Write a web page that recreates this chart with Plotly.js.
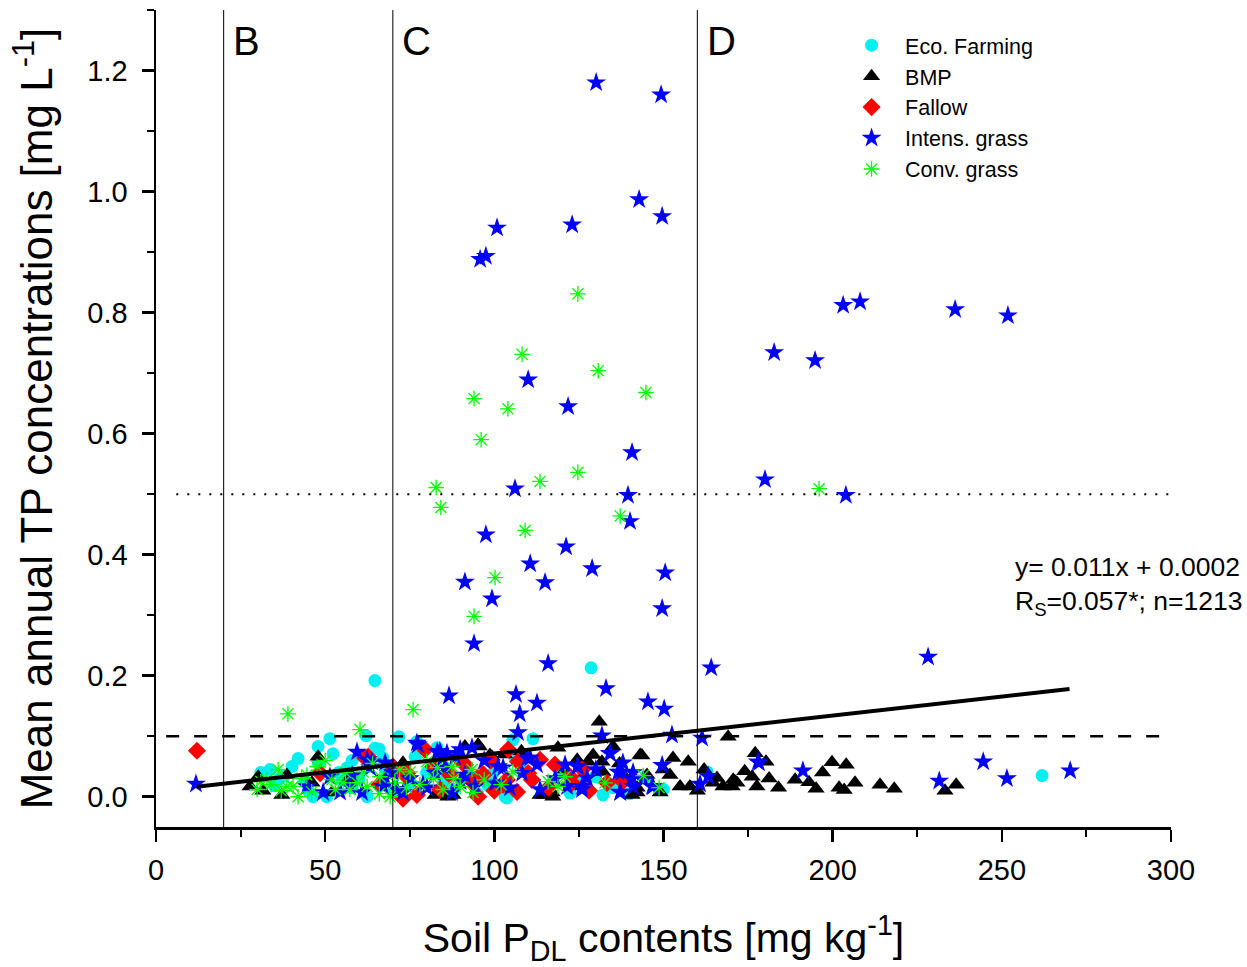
<!DOCTYPE html>
<html>
<head>
<meta charset="utf-8">
<script src="https://cdn.plot.ly/plotly-3.0.1.min.js"></script>
<style>html,body{margin:0;padding:0;background:#fff;}#chart{width:1247px;height:967px;}</style>
</head>
<body>
<div id="chart"></div>
<script>
// ---------- data ----------
var seriesNames = ["Eco. Farming", "BMP", "Fallow", "Intens. grass", "Conv. grass"];

var ecoX = [64.7,128.6,261.9,51.4,62.1,71.8,47.9,52.3,65.9,42.0,33.7,40.2,77.1,83.1,46.4,50.5,62.4,56.5,105.5,111.4,129.8,162.9,103.2,122.4,132.1,99.6,64.7,67.1,76.6,106.1,103.7,36.5,44,58,70,88,95,115,140,31,38,54,60,73,90,98,120,135,150,80,85,35,48,55,68,75,92,108,125,145,58,45];
var ecoY = [0.192,0.213,0.035,0.096,0.101,0.099,0.083,0.071,0.079,0.063,0.045,0.050,0.091,0.081,0.0,0.0,0.0,0.048,0.094,0.096,0.033,0.041,0.0,0.006,0.003,0.039,0.080,0.064,0.066,0.064,-0.002,0.030,0.025,0.015,0.008,0.012,0.005,0.010,0.005,0.040,0.035,0.040,0.030,0.050,0.060,0.020,0.040,0.015,0.012,0.040,0.025,0.018,0.055,0.028,0.045,0.022,0.035,0.045,0.025,0.030,0.060,0.010];

var bmpX = [131.0,177.1,180.3,171.1,176.2,177.6,181.2,188.9,193.0,195.1,199.8,204.0,201.9,203.4,206.6,214.0,218.2,233.2,236.5,170.3,169.1,143.6,152.8,157.3,149.9,151.9,154.9,157.8,165.8,167.6,171.7,142.2,143.1,129.2,135.1,124.5,118.8,98.7,95.5,91.3,117.1,142.2,149.0,164.6,170.6,87.8,113.5,126.2,132.1,145.1,47.9,30.2,27.8,31.6,38.7,37.2,46.1,52.0,57.1,73.0,82.5,95.2,99.3,86.3,127.7,131.8,114.4,117.3,140.7,139.2,127.4,108,103,121,137,160,174,184,197,162];
var bmpY = [0.124,0.072,0.058,0.025,0.033,0.017,0.030,0.028,0.024,0.013,0.057,0.053,0.015,0.011,0.023,0.020,0.013,0.010,0.020,0.017,0.099,0.068,0.064,0.058,0.045,0.036,0.017,0.017,0.031,0.017,0.023,0.015,0.069,0.069,0.083,0.061,0.081,0.069,0.083,0.083,0.007,0.007,0.007,0.023,0.028,0.003,0.003,0.017,0.041,0.036,0.066,0.033,0.017,0.010,0.036,0.003,0.023,0.007,0.031,0.056,0.003,0.086,0.066,0.0,0.058,0.058,0.003,0.0,0.003,0.028,0.012,0.075,0.070,0.045,0.055,0.010,0.042,0.015,0.040,0.045];

var fallowX = [12.1,79.5,61.8,74.2,73.0,77.1,48.5,104.1,117.9,107.0,91.3,96.7,102.6,106.7,95.2,113.5,122.4,133.3,138.0,111.1,86.9,90.7,96.4,73.6,93.4,62.7,137.7,103.7,110.0,123.0,84,66,100,128,82,99,116,126,70];
var fallowY = [0.076,0.078,0.064,0.039,-0.003,0.003,0.039,0.078,0.053,0.058,0.053,0.036,0.020,0.008,0.0,0.061,0.033,0.023,0.025,0.028,0.036,0.056,0.039,0.036,0.025,0.066,0.028,0.028,0.039,0.023,0.012,0.020,0.010,0.010,0.050,0.060,0.015,0.045,0.050];

var intensX = [130.1,149.3,142.8,149.6,123.0,100.8,95.8,97.5,110.0,121.8,140.7,106.1,139.5,140.1,97.5,121.2,110.6,128.9,150.5,91.3,115.0,99.3,149.6,94.0,115.9,133.0,86.6,106.4,145.4,112.6,107.5,150.2,164.1,203.1,208.1,236.2,251.8,182.7,194.8,180.0,203.9,228.2,11.8,178.2,191.2,231.5,244.5,251.5,270.2,161.4,152.5,177.9,149.6,163.2,160.8,141.0,146.9,131.8,107.0,134.2,59.4,77.4,83.9,54.4,57.3,60.9,67.1,63.3,67.7,71.2,78.9,82.5,84.8,44.6,49.4,62.4,51.4,77.1,83.1,85.4,63.8,88.4,91.3,94.3,87.5,100.2,101.1,80.1,73.0,67.7,110.6,112.6,108.2,104.6,120.9,124.7,127.4,125.9,134.2,138.0,136.6,137.2,140.7,113.5,121.5,86.0,89.9,93.4,102.6,109.7,124.5,125.9,137.7,141.0,146.6,137.2,75,90,97,118,130,144,70,58];
var intensY = [1.180,1.160,0.987,0.959,0.945,0.940,0.888,0.893,0.689,0.645,0.569,0.509,0.498,0.455,0.433,0.413,0.385,0.377,0.370,0.355,0.354,0.327,0.311,0.253,0.220,0.179,0.167,0.169,0.157,0.155,0.137,0.145,0.213,0.812,0.818,0.805,0.795,0.734,0.721,0.524,0.498,0.231,0.021,0.056,0.043,0.026,0.058,0.030,0.043,0.097,0.102,0.058,0.052,0.034,0.021,0.040,0.017,0.101,0.106,0.071,0.074,0.086,0.075,0.008,0.017,0.007,0.017,0.048,0.056,0.012,0.020,0.039,0.064,0.017,0.007,0.061,0.033,0.089,0.074,0.048,0.058,0.066,0.036,0.017,0.007,0.023,0.050,0.015,0.007,0.031,0.064,0.053,0.039,0.015,0.053,0.050,0.031,0.012,0.072,0.056,0.041,0.008,0.031,0.012,0.017,0.072,0.078,0.081,0.048,0.064,0.050,0.017,0.041,0.017,0.017,0.007,0.030,0.025,0.060,0.030,0.045,0.028,0.040,0.035];

var convX = [124.7,108.2,130.7,94.0,144.8,104.0,96.1,124.7,113.5,82.8,84.2,137.2,109.1,100.2,94.0,196.0,39.0,76.0,60.3,105.5,115.9,118.8,120.9,132.7,144.0,148.7,93.4,87.5,89.9,93.7,36.1,29.9,42.0,40.5,47.6,55.3,62.4,66.2,70.6,75.1,78.0,83.1,84.8,52.0,57.3,44.6,32.8,38.7,69.2,61.2,59.4,34,50,64,72,80,46,56,31,37,43,53,66,74,82,88,97,102];
var convY = [0.831,0.731,0.704,0.658,0.668,0.641,0.590,0.536,0.521,0.511,0.478,0.464,0.440,0.362,0.298,0.509,0.137,0.144,0.111,0.041,0.025,0.017,0.033,0.023,0.035,0.015,0.045,0.050,0.017,0.007,0.045,0.012,0.0,0.017,0.050,0.023,0.017,0.033,0.023,0.041,0.020,0.048,0.012,0.028,0.012,0.036,0.028,0.017,0.0,0.041,0.023,0.020,0.060,0.055,0.045,0.058,0.008,0.040,0.025,0.010,0.030,0.012,0.005,0.015,0.030,0.030,0.028,0.020];

// regression line end points
var fitX = [12, 270];
var fitY = [0.0165, 0.178];

// zone boundaries and their labels
var zoneBounds = [20, 70, 160];
var zoneLabels = ["B", "C", "D"];
var zoneLabelY = 1.248;

// threshold lines
var dottedY = 0.5;
var dashedY = 0.1;
var threshX = [3, 300];

var eqLines = ["y= 0.011x + 0.0002", "R<sub>S</sub>=0.057*; n=1213"];
var eqPos = [253.3, 0.348];

// ---------- traces ----------
var FONT = "Liberation Sans, Arial, Helvetica, sans-serif";
var traces = [
  {x: ecoX, y: ecoY, name: seriesNames[0], mode: "markers", type: "scatter",
   marker: {symbol: "circle", size: 13, color: "#00f0f0", line: {width: 0}}},
  {x: bmpX, y: bmpY, name: seriesNames[1], mode: "markers", type: "scatter",
   marker: {symbol: "triangle-up", size: 15, color: "#000000", line: {width: 0}}},
  {x: fallowX, y: fallowY, name: seriesNames[2], mode: "markers", type: "scatter",
   marker: {symbol: "diamond", size: 14, color: "#ff0000", line: {width: 0}}},
  {x: intensX, y: intensY, name: seriesNames[3], mode: "markers", type: "scatter",
   marker: {symbol: "star", size: 15, color: "#0000ff", line: {width: 0}}},
  {x: convX, y: convY, name: seriesNames[4], mode: "markers", type: "scatter",
   marker: {symbol: "asterisk-open", size: 13, color: "#00ff00", line: {width: 1.3, color: "#00ee00"}}},
  {x: fitX, y: fitY, mode: "lines", type: "scatter", showlegend: false, hoverinfo: "skip",
   line: {color: "#000000", width: 4}}
];

var shapes = [];
zoneBounds.forEach(function (b) {
  shapes.push({type: "line", xref: "x", yref: "paper", x0: b, x1: b, y0: 0, y1: 1,
               line: {color: "#000", width: 1}});
});
shapes.push({type: "line", xref: "x", yref: "y", x0: threshX[0] + 3, x1: threshX[1], y0: dottedY, y1: dottedY,
             line: {color: "#000", width: 2, dash: "2px,9px"}});
shapes.push({type: "line", xref: "x", yref: "y", x0: threshX[0], x1: threshX[1], y0: dashedY, y1: dashedY,
             line: {color: "#000", width: 2.5, dash: "13px,15px"}});

var annotations = zoneLabels.map(function (t, i) {
  return {x: zoneBounds[i] + 2.2, y: zoneLabelY, xref: "x", yref: "y", text: t, showarrow: false,
          xanchor: "left", yanchor: "middle", font: {family: FONT, size: 40, color: "#000"}};
});
annotations.push({x: eqPos[0], y: eqPos[1], xref: "x", yref: "y", text: eqLines.join("<br>"),
                  showarrow: false, xanchor: "left", yanchor: "middle", align: "left",
                  font: {family: FONT, size: 26.5, color: "#000"}});

var layout = {
  width: 1247, height: 967,
  paper_bgcolor: "#fff", plot_bgcolor: "#fff",
  margin: {l: 156, r: 76, t: 10, b: 140, pad: 0},
  font: {family: FONT, color: "#000"},
  showlegend: true,
  legend: {x: 0.672, y: 0.982, xanchor: "left", yanchor: "top", bgcolor: "rgba(0,0,0,0)",
           font: {family: FONT, size: 21.5, color: "#000"}, tracegroupgap: 0, itemwidth: 57},
  xaxis: {
    range: [0, 300], showgrid: false, zeroline: false, showline: true, linecolor: "#000", linewidth: 2.5,
    ticks: "outside", ticklen: 12, tickwidth: 2.5, tickcolor: "#000", dtick: 50, tick0: 0,
    minor: {dtick: 25, ticks: "outside", ticklen: 7, tickwidth: 2, tickcolor: "#000"},
    tickfont: {family: FONT, size: 29, color: "#000"}, ticklabelstandoff: 4,
    title: {text: "Soil P<sub>DL</sub> contents [mg kg<sup>-1</sup>]", font: {family: FONT, size: 41, color: "#000"}, standoff: 39}
  },
  yaxis: {
    range: [-0.05, 1.3], showgrid: false, zeroline: false, showline: true, linecolor: "#000", linewidth: 2.5,
    ticks: "outside", ticklen: 12, tickwidth: 2.5, tickcolor: "#000", dtick: 0.2, tick0: 0, tickformat: ".1f",
    minor: {dtick: 0.1, ticks: "outside", ticklen: 7, tickwidth: 2, tickcolor: "#000"},
    tickfont: {family: FONT, size: 29, color: "#000"}, ticklabelstandoff: 8,
    title: {text: "Mean annual TP concentrations [mg L<sup>-1</sup>]", font: {family: FONT, size: 44, color: "#000"}, standoff: 21}
  },
  shapes: shapes,
  annotations: annotations
};

Plotly.newPlot("chart", traces, layout, {displayModeBar: false, staticPlot: true});
</script>
</body>
</html>
